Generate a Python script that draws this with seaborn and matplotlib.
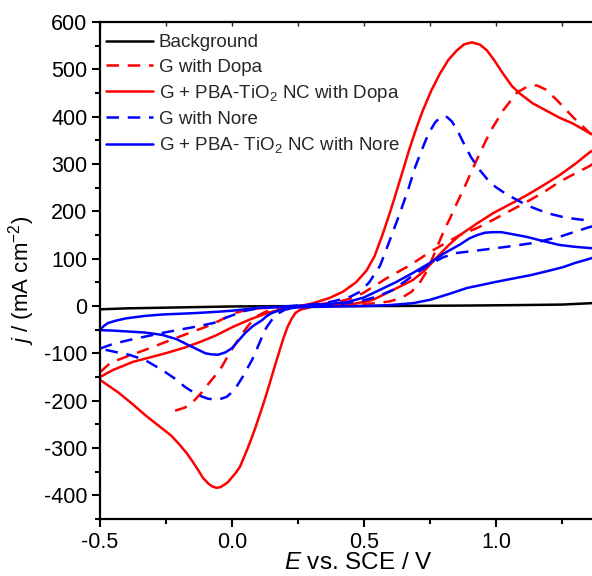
import numpy as np
import matplotlib
matplotlib.use("Agg")
import matplotlib.pyplot as plt
import seaborn as sns
from matplotlib.ticker import MultipleLocator, FormatStrFormatter

# CV DATA, forward sweep then reverse sweep
bg_x = [-0.5, -0.4, -0.2, 0.0, 0.3, 0.6, 0.9, 1.1, 1.25, 1.364, 1.45]
bg_y = [-7, -5, -3, -1, 0, 0, 1, 2, 3, 6, 8]

dopa_x = [-0.5, -0.46, -0.4, -0.33, -0.2, -0.08, 0.01, 0.05, 0.1, 0.2, 0.3, 0.45, 0.55, 0.6,
          0.648, 0.68, 0.71, 0.74, 0.77, 0.80, 0.83, 0.852, 0.88, 0.90, 0.939, 0.98, 1.027,
          1.08, 1.12, 1.155, 1.19, 1.231, 1.292, 1.356, 1.43,
          1.356, 1.3, 1.24, 1.18, 1.117, 1.05, 0.989, 0.93, 0.864, 0.80, 0.75, 0.674, 0.587,
          0.496, 0.45, 0.4, 0.3, 0.2, 0.15, 0.12, 0.1, 0.076, 0.05, 0.023, -0.01, -0.038,
          -0.065, -0.09, -0.115, -0.14, -0.16, -0.18, -0.22]
dopa_y = [-140, -120, -107, -93, -65, -40, -15, -9, -5, -2, 0, 3, 6, 10,
          19, 30, 48, 75, 115, 155, 190, 217, 250, 275, 323, 370, 413,
          451, 464, 466, 457, 435, 399, 365, 325,
          296, 280, 262, 240, 220, 200, 182, 165, 150, 130, 114, 86, 59,
          27, 16, 8, 2, -3, -8, -14, -20, -32, -50, -72, -100, -128,
          -148, -165, -183, -198, -208, -215, -222]

tio2_dopa_x = [-0.5, -0.45, -0.375, -0.3, -0.246, -0.18, -0.121, -0.06, 0.004, 0.07, 0.133,
               0.18, 0.22, 0.26, 0.307, 0.37, 0.42, 0.47, 0.51, 0.54, 0.57, 0.60, 0.625, 0.648,
               0.674, 0.70, 0.723, 0.755, 0.788, 0.82, 0.852, 0.88, 0.909, 0.94, 0.966, 0.995,
               1.027, 1.06, 1.09, 1.14, 1.19, 1.24, 1.29, 1.356, 1.43,
               1.356, 1.3, 1.24, 1.18, 1.117, 1.05, 0.989, 0.93, 0.864, 0.82, 0.78, 0.73, 0.686,
               0.6, 0.534, 0.45, 0.35, 0.3, 0.258, 0.24, 0.225, 0.21, 0.195, 0.18, 0.165, 0.15,
               0.135, 0.12, 0.105, 0.09, 0.075, 0.06, 0.045, 0.03, 0.015, 0.0, -0.015, -0.03,
               -0.045, -0.06, -0.075, -0.09, -0.11, -0.13, -0.15, -0.17, -0.2, -0.23, -0.273,
               -0.33, -0.375, -0.43, -0.5]
tio2_dopa_y = [-150, -135, -118, -107, -99, -88, -76, -62, -44, -28, -15,
               -8, -4, 0, 6, 17, 30, 50, 75, 105, 150, 200, 245, 287,
               335, 378, 413, 455, 491, 520, 540, 553, 557, 552, 540, 518,
               491, 465, 449, 428, 413, 398, 386, 365, 348,
               325, 300, 276, 255, 234, 214, 196, 175, 150, 128, 105, 75, 55,
               31, 13, 3, 0, -2, -8, -15, -28, -45, -68, -95, -122, -150,
               -178, -205, -230, -255, -278, -300, -320, -340, -352, -362, -372, -378,
               -383, -384, -381, -375, -363, -345, -328, -312, -292, -274, -255,
               -230, -208, -183, -156]

nore_x = [-0.5, -0.45, -0.39, -0.265, -0.14, -0.07, -0.038, 0.0, 0.05, 0.1, 0.2, 0.3, 0.35,
          0.4, 0.45, 0.485, 0.52, 0.561, 0.598, 0.636, 0.667, 0.695, 0.723, 0.745, 0.77, 0.79,
          0.80, 0.815, 0.833, 0.855, 0.875, 0.905, 0.939, 0.97, 1.0, 1.04, 1.08, 1.12, 1.167,
          1.21, 1.254, 1.3, 1.345, 1.43,
          1.356, 1.3, 1.24, 1.14, 1.04, 0.94, 0.852, 0.8, 0.75, 0.70, 0.65, 0.61, 0.55, 0.5,
          0.4, 0.3, 0.25, 0.2, 0.175, 0.15, 0.13, 0.114, 0.095, 0.076, 0.055, 0.04, 0.02, 0.0,
          -0.02, -0.053, -0.09, -0.13, -0.178, -0.22, -0.265, -0.33, -0.39, -0.443, -0.5]
nore_y = [-90, -80, -72, -57, -44, -36, -28, -20, -10, -5, -1, 3, 6,
          12, 20, 30, 50, 85, 139, 196, 245, 295, 335, 365, 388, 399,
          401, 399, 390, 370, 347, 315, 287, 266, 251, 236, 224, 212, 202,
          194, 188, 184, 181, 176,
          167, 157, 146, 133, 125, 118, 112, 103, 88, 70, 50, 34, 20, 12,
          3, 0, -2, -8, -16, -30, -46, -65, -90, -114, -135, -150, -168, -182,
          -192, -198, -196, -188, -171, -152, -135, -114, -103, -97, -90]

tio2_nore_x = [-0.5, -0.485, -0.47, -0.44, -0.4, -0.33, -0.265, -0.14, -0.05, 0.0, 0.05, 0.1,
               0.18, 0.3, 0.38, 0.435, 0.5, 0.56, 0.62, 0.686, 0.75, 0.8, 0.864, 0.9, 0.93,
               0.96, 0.99, 1.02, 1.05, 1.117, 1.18, 1.24, 1.3, 1.364, 1.44,
               1.356, 1.3, 1.254, 1.19, 1.13, 1.065, 1.0, 0.95, 0.89, 0.82, 0.75, 0.686, 0.6,
               0.51, 0.4, 0.3, 0.25, 0.2, 0.175, 0.15, 0.13, 0.114, 0.08, 0.05, 0.025, 0.0,
               -0.025, -0.053, -0.08, -0.1, -0.13, -0.167, -0.21, -0.265, -0.33, -0.39, -0.45,
               -0.5]
tio2_nore_y = [-50, -42, -36, -31, -26, -21, -18, -15, -12, -10, -7, -4,
               -2, 2, 5, 8, 18, 34, 50, 70, 91, 110, 130, 143, 150,
               155, 156, 156, 153, 146, 137, 129, 125, 122, 115,
               100, 91, 82, 73, 65, 58, 51, 45, 38, 25, 13, 6, 2,
               0, -1, -2, -3, -6, -10, -15, -22, -30, -42, -57, -73, -89,
               -98, -103, -102, -100, -92, -82, -70, -61, -56, -54, -52,
               -51]

labels = ["Background", "G with Dopa", "G + PBA-TiO$_2$ NC with Dopa",
          "G with Nore", "G + PBA- TiO$_2$ NC with Nore"]

sns.set_theme(style="ticks")
plt.rcParams["font.family"] = ["Liberation Sans", "DejaVu Sans"]
plt.rcParams["mathtext.fontset"] = "custom"
plt.rcParams["mathtext.rm"] = "Liberation Sans"
plt.rcParams["mathtext.it"] = "Liberation Sans:italic"
plt.rcParams["axes.unicode_minus"] = False

fig = plt.figure(figsize=(5.92, 5.76), dpi=100)
ax = fig.add_axes([100 / 592, 57 / 576, 492 / 592, 497 / 576])

dash = (0, (5, 3.5))
curves = [
    (bg_x, bg_y, "black", "-"),
    (dopa_x, dopa_y, "#ff0000", dash),
    (tio2_dopa_x, tio2_dopa_y, "#ff0000", "-"),
    (nore_x, nore_y, "#0000ff", dash),
    (tio2_nore_x, tio2_nore_y, "#0000ff", "-"),
]
for (cx, cy, col, ls), lab in zip(curves, labels):
    sns.lineplot(x=cx, y=cy, sort=False, estimator=None, color=col, linestyle=ls,
                 linewidth=1.8, label=lab, ax=ax)

ax.set_xlim(-0.5, 1.364)
ax.set_ylim(-450, 600)
ax.xaxis.set_major_locator(MultipleLocator(0.5))
ax.xaxis.set_minor_locator(MultipleLocator(0.25))
ax.xaxis.set_major_formatter(FormatStrFormatter("%.1f"))
ax.yaxis.set_major_locator(MultipleLocator(100))
ax.yaxis.set_minor_locator(MultipleLocator(50))

for s in ["left", "bottom", "top"]:
    ax.spines[s].set_linewidth(1.6)
    ax.spines[s].set_color("black")
ax.spines["right"].set_visible(False)
ax.tick_params(which="both", direction="out", width=1.5, color="black", labelsize=15.5,
               labelcolor="black")
ax.tick_params(which="major", length=6, pad=3)
ax.tick_params(which="minor", length=3.5)

top = ax.secondary_xaxis("top")
top.xaxis.set_major_locator(MultipleLocator(0.25))
top.tick_params(direction="in", length=3, width=1, labeltop=False)
top.spines["top"].set_visible(False)

ax.set_xlabel("$E$ vs. SCE / V", fontsize=17.5, color="black")
ax.set_ylabel("$j$ / (mA cm$^{-2}$)", fontsize=16, color="black")
ax.xaxis.set_label_coords(0.526, -0.066)
ax.yaxis.set_label_coords(-0.128, 0.48)

h, l = ax.get_legend_handles_labels()
ax.legend(h, l, loc="upper left", bbox_to_anchor=(-0.012, 1.0), frameon=False,
          fontsize=13.5, handlelength=2.5, handletextpad=0.3, labelspacing=0.38,
          borderaxespad=0.45, borderpad=0.2)

fig.savefig("out.png", dpi=100)
